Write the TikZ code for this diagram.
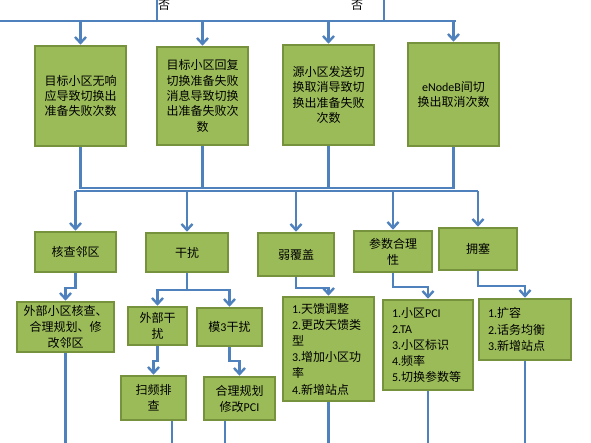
\documentclass[tikz,border=0pt]{standalone}
\usepackage{fontspec}
\setmainfont{Noto Sans CJK SC}
\newfontfamily\latf{Carlito}
\newcommand\la[1]{{\latf #1}}
\usetikzlibrary{arrows.meta}
\definecolor{boxfill}{HTML}{9BBB59}
\definecolor{boxline}{HTML}{76923C}
\definecolor{conn}{HTML}{4F81BD}
\begin{document}
\begin{tikzpicture}[x=1pt,y=-1pt,
  box/.style={draw=boxline, fill=boxfill, line width=2.5pt, inner sep=0pt, align=center,
    font=\fontsize{12}{15.3}\selectfont},
  lbox/.style={box, align=left, inner xsep=9pt, font=\fontsize{12}{16.2}\selectfont},
  ln/.style={draw=conn, line width=2.4pt},
  arr/.style={ln, -{Straight Barb[length=6pt,width=11pt]}},
  lab/.style={font=\fontsize{12}{14}\selectfont, inner sep=0pt}
]
\useasboundingbox (0,0) rectangle (591,443);
\clip (0,0) rectangle (591,443);
% top level boxes
\node[box, minimum width=91pt, minimum height=100pt] (b1) at (80.5,96) {目标小区无响\\应导致切换出\\准备失败次数};
\node[box, minimum width=91pt, minimum height=98pt] (b2) at (202.5,96) {目标小区回复\\切换准备失败\\消息导致切换\\出准备失败次\\数};
\node[box, minimum width=91pt, minimum height=100pt] (b3) at (328.5,95) {源小区发送切\\换取消导致切\\换出准备失败\\次数};
\node[box, minimum width=91pt, minimum height=103pt] (b4) at (453.5,94.5) {\la{eNodeB}间切\\换出取消次数};
% second level
\node[box, minimum width=81pt, minimum height=40pt] (l1) at (75.5,252) {核查邻区};
\node[box, minimum width=82pt, minimum height=39pt] (l2) at (187,252.5) {干扰};
\node[box, minimum width=76pt, minimum height=43pt] (l3) at (296,254.5) {弱覆盖};
\node[box, minimum width=78pt, minimum height=41pt, font=\fontsize{12}{16}\selectfont] (l4) at (393,251.5) {参数合理\\性};
\node[box, minimum width=78pt, minimum height=42pt] (l5) at (478,249) {拥塞};
% third level
\node[box, minimum width=97pt, minimum height=50pt, font=\fontsize{12}{16}\selectfont] (m1) at (65.5,327) {外部小区核查、\\合理规划、修\\改邻区};
\node[box, minimum width=59pt, minimum height=38pt, font=\fontsize{12}{16}\selectfont] (m2a) at (157.5,326) {外部干\\扰};
\node[box, minimum width=65pt, minimum height=38pt] (m2b) at (229.5,327) {模\la{3}干扰};
\node[lbox, text width=73pt, minimum width=91pt, minimum height=104pt] (m3) at (328.5,349) {\la{1.}天馈调整\\\la{2.}更改天馈类\\型\\\la{3.}增加小区功\\率\\\la{4.}新增站点};
\node[lbox, text width=72pt, minimum width=90pt, minimum height=90pt] (m4) at (428,345) {\la{1.}小区\la{PCI}\\\la{2.TA}\\\la{3.}小区标识\\\la{4.}频率\\\la{5.}切换参数等};
\node[lbox, text width=74pt, minimum width=92pt, minimum height=61pt] (m5) at (525,329.5) {\la{1.}扩容\\\la{2.}话务均衡\\\la{3.}新增站点};
% fourth level
\node[box, minimum width=65pt, minimum height=44pt, font=\fontsize{12}{16}\selectfont] (n1) at (153.5,398) {扫频排\\查};
\node[box, minimum width=71pt, minimum height=43pt, font=\fontsize{12}{16}\selectfont] (n2) at (239.5,398.5) {合理规划\\修改\la{PCI}};
% top connectors
\coordinate (tl) at (0,21);
\coordinate (tr) at (456,21);
\coordinate (ta) at (157,-5);
\coordinate (tb) at (384,-5);
\draw[ln] (ta) -- (ta |- tl);
\draw[ln] (tb) -- (tb |- tl);
\draw[ln] (tl) -- (tr);
\node[lab] (no1) at (164,5.5) {否};
\node[lab] (no2) at (357,5.5) {否};
\draw[arr] (b1.north |- tl) -- (b1.north);
\draw[arr] (b2.north |- tl) -- (b2.north);
\draw[arr] (b3.north |- tl) -- (b3.north);
\draw[arr] (b4.north |- tl) -- (b4.north);
% middle bus
\coordinate (busA) at (0,188);
\coordinate (busB) at (0,191);
\draw[ln] (b1.south) -- (b1.south |- busA) -- (b4.south |- busA) -- (b4.south);
\draw[ln] (b2.south) -- (b2.south |- busA);
\draw[ln] (b3.south) -- (b3.south |- busA);
\draw[ln] (l1.north |- busB) -- (l5.north |- busB);
\foreach \n in {l1,l2,l3,l4,l5} {\draw[arr] (\n.north |- busB) -- (\n.north);}
% lower connectors
\draw[arr] (l1.south) -- ++(0,15) -| (m1.north);
\draw[arr] (l2.south) -- ++(0,17) -| (m2a.north);
\draw[arr] (l2.south) -- ++(0,17) -| (m2b.north);
\draw[arr] (m2a.south) -- ++(0,15) -| (n1.north);
\draw[arr] (m2b.south) -- ++(0,14) -| (n2.north);
\draw[arr] (l3.south) -- ++(0,11) -| (m3.north);
\draw[arr] (l4.south) -- ++(0,14) -| (m4.north);
\draw[arr] (l5.south) -- ++(0,15) -| (m5.north);
% exits to bottom edge
\coordinate (bot) at (0,450);
\coordinate (n1x) at ([xshift=18.5pt]n1.south);
\coordinate (n2x) at ([xshift=-14.5pt]n2.south);
\draw[ln] (m1.south) -- (m1.south |- bot);
\draw[ln] (n1x) -- (n1x |- bot);
\draw[ln] (n2x) -- (n2x |- bot);
\draw[ln] (m3.south) -- (m3.south |- bot);
\draw[ln] (m4.south) -- (m4.south |- bot);
\draw[ln] (m5.south) -- (m5.south |- bot);
\end{tikzpicture}
\end{document}
